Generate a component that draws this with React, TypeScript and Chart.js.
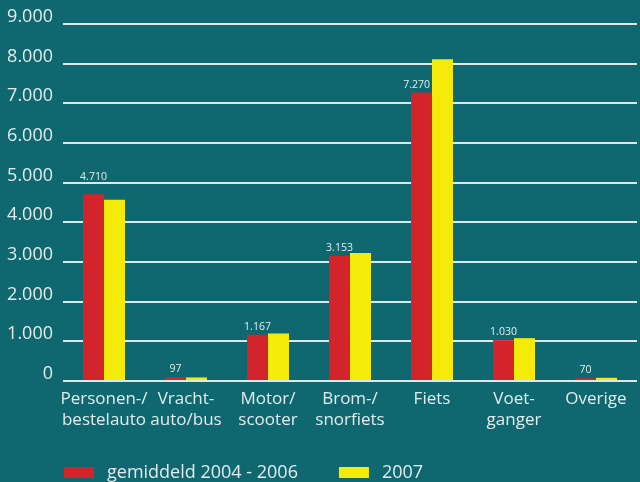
import React, { useEffect, useRef } from "react";
import { Chart, registerables } from "chart.js";

Chart.register(...registerables);

const categories: (string | string[])[] = [
  ["Personen-/", "bestelauto"],
  ["Vracht-", "auto/bus"],
  ["Motor/", "scooter"],
  ["Brom-/", "snorfiets"],
  "Fiets",
  ["Voet-", "ganger"],
  "Overige",
];
const seriesNames = ["gemiddeld 2004 - 2006", "2007"];
const avg2004to2006 = [4710, 97, 1167, 3153, 7270, 1030, 70];
const year2007 = [4570, 90, 1200, 3230, 8110, 1080, 80];
const yMin = 0;
const yMax = 9000;
const yStep = 1000;

const BG = "#0f6870";
const RED = "#d3232b";
const YELLOW = "#f5eb0a";
const TEXT = "#e3ecec";
const GRID = "#dde8e9";
const FONT = "'Open Sans', sans-serif";

const fmt = (v: number) => {
  const s = Math.round(v).toString();
  return s.replace(/\B(?=(\d{3})+(?!\d))/g, ".");
};

const bgPlugin = {
  id: "bgFill",
  beforeDraw(chart: any) {
    const { ctx, width, height } = chart;
    ctx.save();
    ctx.fillStyle = BG;
    ctx.fillRect(0, 0, width, height);
    ctx.restore();
  },
};

const valueLabelPlugin = {
  id: "valueLabels",
  afterDatasetsDraw(chart: any) {
    const { ctx } = chart;
    const meta = chart.getDatasetMeta(0);
    const meta2 = chart.getDatasetMeta(1);
    const data = chart.data.datasets[0].data as number[];
    const yScale = chart.scales.y;
    const gridYs: number[] = yScale.ticks.map((t: any) => yScale.getPixelForValue(t.value));
    ctx.save();
    ctx.font = `10.5px ${FONT}`;
    ctx.fillStyle = TEXT;
    ctx.textAlign = "left";
    ctx.textBaseline = "alphabetic";
    meta.data.forEach((bar: any, i: number) => {
      const txt = fmt(data[i]);
      const w = ctx.measureText(txt).width;
      let base = bar.y - 5;
      // avoid crossing a gridline
      for (const gy of gridYs) {
        if (gy > base - 9 && gy < base + 2) {
          base = gy - 3;
        }
      }
      let left = bar.x - w / 2;
      const other = meta2.data[i];
      if (other) {
        const otherLeft = other.x - other.width / 2;
        if (other.y < base && left + w > otherLeft - 2) {
          left = otherLeft - 2 - w;
        }
      }
      ctx.fillText(txt, left, base);
    });
    ctx.restore();
  },
};

const legendPlugin = {
  id: "customLegend",
  afterDraw(chart: any) {
    const { ctx, chartArea } = chart;
    ctx.save();
    ctx.font = `18px ${FONT}`;
    ctx.textBaseline = "middle";
    ctx.textAlign = "left";
    let x = chartArea.left + 1;
    const yMid = 472.5;
    chart.data.datasets.forEach((ds: any) => {
      ctx.fillStyle = ds.backgroundColor;
      ctx.fillRect(x, yMid - 5.5, 30, 11);
      ctx.fillStyle = TEXT;
      const tx = x + 43;
      ctx.fillText(ds.label, tx, yMid);
      x = tx + ctx.measureText(ds.label).width + 41;
    });
    ctx.restore();
  },
};

export default function App() {
  const canvasRef = useRef<HTMLCanvasElement | null>(null);

  useEffect(() => {
    if (!canvasRef.current) return;
    const chart = new Chart(canvasRef.current, {
      type: "bar",
      data: {
        labels: categories,
        datasets: [
          {
            label: seriesNames[0],
            data: avg2004to2006,
            backgroundColor: RED,
            borderWidth: 0,
            categoryPercentage: 0.512,
            barPercentage: 1,
          },
          {
            label: seriesNames[1],
            data: year2007,
            backgroundColor: YELLOW,
            borderWidth: 0,
            categoryPercentage: 0.512,
            barPercentage: 1,
          },
        ],
      },
      options: {
        animation: false,
        responsive: true,
        maintainAspectRatio: false,
        layout: { padding: { left: 0, right: 3, top: 24, bottom: 41 } },
        plugins: {
          legend: { display: false },
          tooltip: { enabled: false },
        },
        scales: {
          x: {
            grid: { display: false, drawTicks: false },
            border: { display: false },
            ticks: {
              color: TEXT,
              font: { family: FONT, size: 17, lineHeight: 1.24 },
              padding: 8,
              maxRotation: 0,
              autoSkip: false,
            },
            afterFit: (scale: any) => {
              scale.height = 60;
            },
          },
          y: {
            min: yMin,
            max: yMax,
            grid: { color: GRID, lineWidth: 2, drawTicks: false },
            border: { display: false },
            ticks: {
              stepSize: yStep,
              color: TEXT,
              font: { family: FONT, size: 18 },
              padding: 10,
              labelOffset: -7,
              callback: (v: any) => fmt(Number(v)),
            },
            afterFit: (scale: any) => {
              scale.width = 63;
            },
          },
        },
      },
      plugins: [bgPlugin, valueLabelPlugin, legendPlugin],
    });
    return () => chart.destroy();
  }, []);

  return (
    <div
      style={{
        position: "fixed",
        left: 0,
        top: 0,
        width: 640,
        height: 482,
        background: BG,
      }}
    >
      <canvas ref={canvasRef} />
    </div>
  );
}
